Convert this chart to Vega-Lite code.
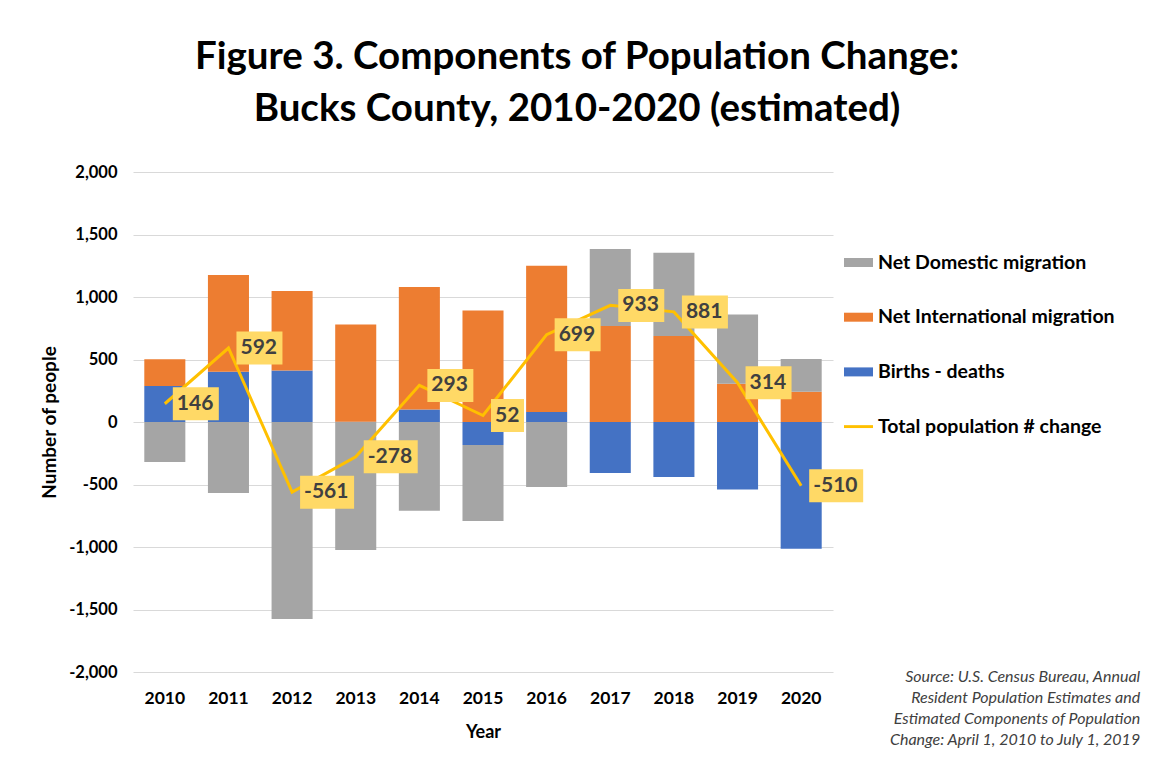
{
  "$schema": "https://vega.github.io/schema/vega-lite/v6.json",
  "width": 700,
  "height": 500,
  "autosize": {"type": "none"},
  "padding": {"left": 133, "top": 172, "right": 316, "bottom": 96},
  "background": "white",
  "config": {
    "font": "Lato",
    "view": {"stroke": null},
    "axis": {"labelFont": "Lato", "titleFont": "Lato"}
  },
  "title": {
    "text": ["Figure 3. Components of Population Change:", "Bucks County, 2010-2020 (estimated)"],
    "font": "Lato",
    "fontSize": 38.5,
    "fontWeight": "bold",
    "color": "#000000",
    "lineHeight": 52,
    "anchor": "middle",
    "frame": "group",
    "dx": 94,
    "offset": 35
  },
  "datasets": {
    "components": [
      {"year": "2010", "component": "Births - deaths", "value": 288},
      {"year": "2010", "component": "Net International migration", "value": 214},
      {"year": "2010", "component": "Net Domestic migration", "value": -320},
      {"year": "2011", "component": "Births - deaths", "value": 403},
      {"year": "2011", "component": "Net International migration", "value": 773},
      {"year": "2011", "component": "Net Domestic migration", "value": -568},
      {"year": "2012", "component": "Births - deaths", "value": 413},
      {"year": "2012", "component": "Net International migration", "value": 635},
      {"year": "2012", "component": "Net Domestic migration", "value": -1576},
      {"year": "2013", "component": "Births - deaths", "value": 3},
      {"year": "2013", "component": "Net International migration", "value": 778},
      {"year": "2013", "component": "Net Domestic migration", "value": -1024},
      {"year": "2014", "component": "Births - deaths", "value": 101},
      {"year": "2014", "component": "Net International migration", "value": 979},
      {"year": "2014", "component": "Net Domestic migration", "value": -709},
      {"year": "2015", "component": "Births - deaths", "value": -184},
      {"year": "2015", "component": "Net International migration", "value": 893},
      {"year": "2015", "component": "Net Domestic migration", "value": -608},
      {"year": "2016", "component": "Births - deaths", "value": 80},
      {"year": "2016", "component": "Net International migration", "value": 1171},
      {"year": "2016", "component": "Net Domestic migration", "value": -520},
      {"year": "2017", "component": "Births - deaths", "value": -408},
      {"year": "2017", "component": "Net International migration", "value": 768},
      {"year": "2017", "component": "Net Domestic migration", "value": 616},
      {"year": "2018", "component": "Births - deaths", "value": -440},
      {"year": "2018", "component": "Net International migration", "value": 688},
      {"year": "2018", "component": "Net Domestic migration", "value": 667},
      {"year": "2019", "component": "Births - deaths", "value": -539},
      {"year": "2019", "component": "Net International migration", "value": 307},
      {"year": "2019", "component": "Net Domestic migration", "value": 554},
      {"year": "2020", "component": "Births - deaths", "value": -1013},
      {"year": "2020", "component": "Net International migration", "value": 243},
      {"year": "2020", "component": "Net Domestic migration", "value": 261}
    ],
    "totals": [
      {"year": "2010", "total": 146},
      {"year": "2011", "total": 592},
      {"year": "2012", "total": -561},
      {"year": "2013", "total": -278},
      {"year": "2014", "total": 293},
      {"year": "2015", "total": 52},
      {"year": "2016", "total": 699},
      {"year": "2017", "total": 933},
      {"year": "2018", "total": 881},
      {"year": "2019", "total": 314},
      {"year": "2020", "total": -510}
    ]
  },
  "encoding": {
    "x": {
      "field": "year",
      "type": "nominal",
      "sort": null,
      "scale": {"domain": ["2010","2011","2012","2013","2014","2015","2016","2017","2018","2019","2020"], "paddingInner": 0.355, "paddingOuter": 0.1775},
      "axis": {
        "title": "Year",
        "labelAngle": 0,
        "ticks": false,
        "tickSize": 0,
        "domain": false,
        "grid": false,
        "labelFontSize": 17.5,
        "labelFontWeight": "bold",
        "labelColor": "#000000",
        "labelPadding": 17,
        "titleFontSize": 18,
        "titleFontWeight": "bold",
        "titleColor": "#000000",
        "titlePadding": 17
      }
    }
  },
  "layer": [
    {
      "data": {"name": "components"},
      "transform": [
        {"calculate": "indexof(['Births - deaths','Net International migration','Net Domestic migration'], datum.component)", "as": "stackIndex"}
      ],
      "mark": {"type": "bar"},
      "encoding": {
        "y": {
          "field": "value",
          "type": "quantitative",
          "stack": "zero",
          "scale": {"domain": [-2000, 2000], "nice": false, "zero": false},
          "axis": {
            "title": "Number of people",
            "values": [-2000, -1500, -1000, -500, 0, 500, 1000, 1500, 2000],
            "format": ",d",
            "labelExpr": "replace(datum.label, '\u2212', '-')",
            "ticks": false,
            "tickSize": 0,
            "domain": false,
            "grid": true,
            "gridColor": "#d9d9d9",
            "gridWidth": 1,
            "labelFontSize": 16.5,
            "labelFontWeight": "bold",
            "labelColor": "#000000",
            "labelPadding": 16,
            "titleFontSize": 19,
            "titleFontWeight": "bold",
            "titleColor": "#000000",
            "titlePadding": 9
          }
        },
        "color": {
          "field": "component",
          "type": "nominal",
          "scale": {
            "domain": ["Net Domestic migration", "Net International migration", "Births - deaths", "Total population # change"],
            "range": ["#A5A5A5", "#ED7D31", "#4472C4", "#FFC000"]
          },
          "legend": {
            "title": null,
            "orient": "none",
            "legendX": 711,
            "legendY": 76,
            "symbolSize": 841,
            "symbolType": "M-1,-0.31H1V0.31H-1Z",
            "labelFont": "Lato",
            "labelFontSize": 19.5,
            "labelFontWeight": "bold",
            "labelColor": "#000000",
            "labelOffset": 5,
            "rowPadding": 30.7,
            "labelLimit": 400,
            "encode": {
              "symbols": {
                "update": {
                  "shape": {"signal": "datum.value === 'Total population # change' ? 'M-1,-0.1H1V0.1H-1Z' : 'M-1,-0.31H1V0.31H-1Z'"},
                  "fill": {"signal": "scale('color', datum.value)"},
                  "stroke": {"value": "transparent"},
                  "strokeWidth": {"value": 0},
                  "opacity": {"value": 1},
                  "fillOpacity": {"value": 1}
                }
              }
            }
          }
        },
        "order": {"field": "stackIndex", "type": "quantitative"}
      }
    },
    {
      "data": {"values": [{}]},
      "mark": {"type": "rule", "color": "#000000", "strokeWidth": 3.5},
      "encoding": {"y": {"datum": 0, "type": "quantitative"}}
    },
    {
      "data": {"name": "totals"},
      "mark": {"type": "line", "strokeWidth": 3},
      "encoding": {
        "y": {"field": "total", "type": "quantitative"},
        "color": {"datum": "Total population # change"}
      }
    },
    {
      "data": {"name": "totals"},
      "transform": [
        {"calculate": "'' + datum.total", "as": "lab"},
        {"calculate": "'L' + length(datum.lab)", "as": "len"}
      ],
      "mark": {"type": "point", "filled": true, "fill": "#FFD966", "opacity": 1, "strokeWidth": 0, "size": 400},
      "encoding": {
        "y": {"field": "total", "type": "quantitative"},
        "shape": {
          "field": "len",
          "type": "nominal",
          "scale": {
            "domain": ["L2", "L3", "L4"],
            "range": ["M0.8,-1.65H4.1V1.65H0.8Z", "M0.8,-1.65H5.4V1.65H0.8Z", "M0.8,-1.65H6.2V1.65H0.8Z"]
          },
          "legend": null
        }
      }
    },
    {
      "data": {"name": "totals"},
      "transform": [
        {"calculate": "'' + datum.total", "as": "lab"}
      ],
      "mark": {"type": "text", "align": "left", "baseline": "middle", "dx": 12, "font": "Lato", "fontSize": 21, "fontWeight": "bold", "color": "#404040"},
      "encoding": {
        "y": {"field": "total", "type": "quantitative"},
        "text": {"field": "lab", "type": "nominal"}
      }
    },
    {
      "data": {"values": [{}]},
      "mark": {
        "type": "text",
        "align": "right",
        "baseline": "top",
        "dx": 339,
        "dy": -3,
        "font": "Lato",
        "fontSize": 16,
        "fontStyle": "italic",
        "lineHeight": 21,
        "color": "#404040"
      },
      "encoding": {
        "x": {"datum": "2020"},
        "y": {"datum": -2000, "type": "quantitative"},
        "text": {"value": ["Source: U.S. Census Bureau, Annual", "Resident Population Estimates and", "Estimated Components of Population", "Change: April 1, 2010 to July 1, 2019"]}
      }
    }
  ]
}
